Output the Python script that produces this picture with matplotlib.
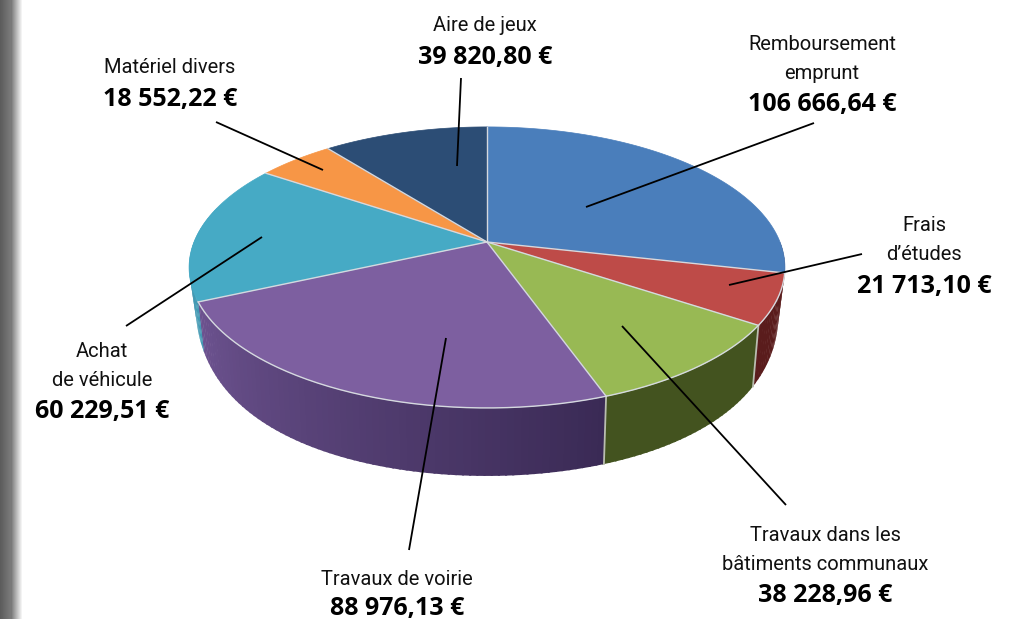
import numpy as np
import matplotlib
matplotlib.use("Agg")
import matplotlib.pyplot as plt
from matplotlib.patches import Polygon

# --- data ---
categories = ["Remboursement\nemprunt", "Frais\nd’études", "Travaux dans les\nbâtiments communaux",
              "Travaux de voirie", "Achat\nde véhicule", "Matériel divers", "Aire de jeux"]
values = [106666.64, 21713.10, 38228.96, 88976.13, 60229.51, 18552.22, 39820.80]
value_labels = ["106 666,64 €", "21 713,10 €", "38 228,96 €", "88 976,13 €",
                "60 229,51 €", "18 552,22 €", "39 820,80 €"]
top_colors = ["#4a7ebb", "#be4b48", "#98b954", "#7d5fa0", "#46aac5", "#f79646", "#2c4d75"]
side_start = ["#5a1c1c", "#5a1c1c", "#43531f", "#3a2a55", "#4299b3", "#c57a38", "#24405f"]
side_end = ["#5a1c1c", "#5a1c1c", "#43531f", "#6d5390", "#4299b3", "#c57a38", "#24405f"]

# label blocks: centre x, first baseline y
label_pos = [(822, 50), (924, 231), (825, 541), (397, 585), (102, 357), (170, 73), (485, 31)]
value_step = [32, 33, 32, 30, 32, 33, 33]
line_step = 29
leaders = [((814, 123), (586, 207)), ((862, 254), (729, 285)), ((786, 505), (622, 326)),
           ((409, 550), (446, 338)), ((126, 326), (262, 237)), ((216, 122), (323, 170)),
           ((461, 78), (457, 166))]

# --- pie geometry in pixel space ---
CX, CY, A, B, K = 487.0, 242.0, 135.9, 293.0, 0.181


def top_pt(theta):
    u, v = np.sin(theta), np.cos(theta)
    d = 1 + K * v
    return CX + B * u / d, CY - A * v / d


def bottom_pt(theta):
    u, v = np.sin(theta), np.cos(theta)
    x, y = top_pt(theta)
    w = np.clip(-v, 0, 1)
    c = 35 if u > 0 else 50
    h = 68 - c * (1 - w) ** 2
    return x - 6.5 * u, y + h


def hex2rgb(c):
    return np.array(matplotlib.colors.to_rgb(c))


fig = plt.figure(figsize=(10.12, 6.19), dpi=100, facecolor="white")
ax = fig.add_axes([0, 0, 1, 1])
ax.axis("off")

# left binding shadow
grad = np.concatenate([np.linspace(0.36, 0.48, 11), np.linspace(0.48, 1.0, 12)])[None, :]
ax.imshow(grad, extent=(0, 23, 619, 0), cmap="gray", vmin=0, vmax=1, aspect="auto", zorder=0)
ax.set_xlim(0, 1012)
ax.set_ylim(619, 0)

fracs = np.array(values) / np.sum(values)
edges = np.concatenate([[0], np.cumsum(fracs)]) * 2 * np.pi

# side wall
for i in range(len(values)):
    t0, t1 = edges[i], edges[i + 1]
    lo, hi = max(t0, np.pi / 2), min(t1, np.radians(285))
    if hi <= lo:
        continue
    ts = np.linspace(lo, hi, max(int((hi - lo) * 50), 2))
    for a, b in zip(ts[:-1], ts[1:]):
        f = (0.5 * (a + b) - t0) / (t1 - t0)
        col = (1 - f) * hex2rgb(side_start[i]) + f * hex2rgb(side_end[i])
        # slight overlap with the next strip hides the seams
        sub = np.linspace(a, b + (b - a) * 0.3, 6)
        tx, ty = top_pt(sub)
        bx, by = np.array([bottom_pt(s) for s in sub[::-1]]).T
        ax.add_patch(Polygon(np.column_stack([np.r_[tx, bx], np.r_[ty, by]]), closed=True,
                             facecolor=col, edgecolor="none", lw=0, zorder=2))
# separators on the wall
for e in edges[1:]:
    if np.radians(110) < e < np.radians(240):
        p, q = top_pt(e), bottom_pt(e)
        ax.plot([p[0], q[0]], [p[1], q[1]], color="#b9bdb0", lw=1.3, zorder=3)

# top faces
for i in range(len(values)):
    ts = np.linspace(edges[i], edges[i + 1], 120)
    xs, ys = top_pt(ts)
    pts = np.vstack([[CX, CY], np.column_stack([xs, ys])])
    ax.add_patch(Polygon(pts, closed=True, facecolor=top_colors[i],
                         edgecolor=top_colors[i], lw=0.5, zorder=4))
# spokes and front rim highlights
for e in edges[:-1]:
    x, y = top_pt(e)
    ax.plot([CX, x], [CY, y], color="#d5d9df", lw=1.0, zorder=5)
rim = np.linspace(edges[1], edges[4], 200)
xs, ys = top_pt(rim)
ax.plot(xs, ys, color="#d5d9df", lw=1.0, zorder=5)

# leaders
for (p, q) in leaders:
    ax.plot([p[0], q[0]], [p[1], q[1]], color="black", lw=1.3, solid_capstyle="butt", zorder=6)

# labels
for cat, val, (x, y), step in zip(categories, value_labels, label_pos, value_step):
    lines = cat.split("\n")
    for j, line in enumerate(lines):
        ax.text(x, y + j * line_step, line, ha="center", va="baseline",
                family="Roboto", fontsize=14.5, color="#111111", zorder=7)
    ax.text(x, y + (len(lines) - 1) * line_step + step, val, ha="center", va="baseline",
            family="Open Sans", fontweight="bold", fontsize=18, color="black", zorder=7)

fig.savefig("out.png", dpi=100)
